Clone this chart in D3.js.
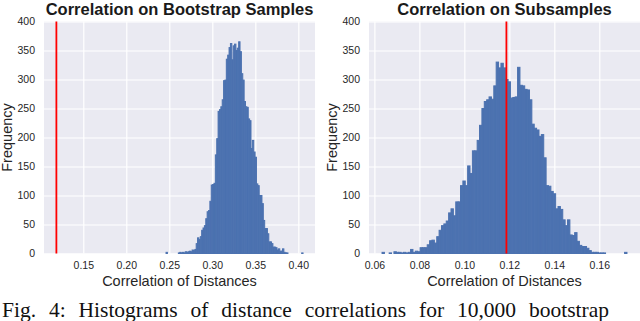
<!DOCTYPE html>
<html><head><meta charset="utf-8">
<script src="https://cdn.jsdelivr.net/npm/d3@7"></script>
<style>
html,body{margin:0;padding:0;background:#fff;overflow:hidden}
text{font-family:"Liberation Sans",Arial,sans-serif}
</style>
</head><body>
<svg id="chart" width="640" height="321"></svg>
<script>
// ---------------- data ----------------
const yTicks = [0, 50, 100, 150, 200, 250, 300, 350, 400];
const leftXTicks = [0.15, 0.20, 0.25, 0.30, 0.35, 0.40];
const rightXTicks = [0.06, 0.08, 0.10, 0.12, 0.14, 0.16];
const leftTitle = "Correlation on Bootstrap Samples";
const rightTitle = "Correlation on Subsamples";
const xLabel = "Correlation of Distances";
const yLabel = "Frequency";
const caption = "Fig. 4: Histograms of distance correlations for 10,000 bootstrap";
const referenceValue = 0.1187;           // red vertical line (both panels)
const leftBinRange = [0.2462, 0.4055];   // first bin start, last bin end
const rightBinRange = [0.0634, 0.1723];
const leftCounts = [
  2, 0, 0, 0, 0, 0, 0, 0, 0, 1,
  2, 1, 2, 1, 3, 2, 3, 4, 3, 6,
  5, 7, 17, 27, 24, 29, 40, 44, 48, 60,
  72, 74, 90, 118, 119, 121, 170, 198, 245, 248,
  253, 265, 298, 299, 335, 342, 355, 362, 334, 358,
  361, 350, 354, 365, 348, 310, 299, 262, 253, 252,
  232, 229, 181, 195, 175, 166, 120, 117, 100, 100,
  86, 57, 43, 43, 34, 20, 20, 17, 11, 11,
  10, 6, 8, 4, 4, 8, 2, 1, 1, 0,
  0, 0, 0, 0, 0, 0, 0, 0, 0, 1
];
const rightCounts = [
  2, 0, 0, 1, 0, 3, 2, 2, 1, 2,
  1, 2, 7, 2, 4, 3, 10, 10, 10, 15,
  22, 23, 18, 29, 40, 48, 51, 56, 70, 77,
  65, 89, 89, 117, 125, 117, 151, 138, 177, 177,
  195, 221, 250, 262, 265, 270, 266, 289, 330, 320,
  328, 320, 300, 296, 268, 269, 270, 321, 290, 289,
  283, 282, 265, 223, 216, 213, 202, 205, 165, 117,
  116, 107, 103, 77, 81, 76, 58, 48, 58, 32,
  31, 36, 21, 14, 12, 12, 9, 5, 2, 2,
  2, 1, 1, 1, 0, 0, 0, 0, 0, 0,
  0, 0, 2
];

// ---------------- drawing ----------------
const svg = d3.select("#chart");
svg.append("rect").attr("width", 640).attr("height", 321).attr("fill", "#fff");

const BG = "#EAEAF2", BAR = "#4C72B0", TXT = "#262626";
const yScale = d3.scaleLinear().domain([0, 400]).range([253.5, 21.5]);

function panel(o) {
  const g = svg.append("g");
  const x = d3.scaleLinear().domain(o.domain).range([o.left, o.right]);
  const top = yScale.range()[1], bottom = yScale.range()[0];

  g.append("rect").attr("x", o.left).attr("y", top)
    .attr("width", o.right - o.left).attr("height", bottom - top).attr("fill", BG);

  // grid
  const gy = g.append("g").attr("transform", `translate(${o.left},0)`)
    .call(d3.axisLeft(yScale).tickValues(yTicks).tickSize(-(o.right - o.left)).tickFormat(""));
  gy.select(".domain").remove();
  gy.selectAll("line").attr("stroke", "#fff").attr("stroke-width", 1.2);

  const gx = g.append("g").attr("transform", `translate(0,${top})`)
    .call(d3.axisBottom(x).tickValues(o.ticks).tickSize(bottom - top).tickFormat(""));
  gx.select(".domain").remove();
  gx.selectAll("line").attr("stroke", "#fff").attr("stroke-width", 1.2);

  // bars
  const n = o.counts.length;
  const w = (o.binRange[1] - o.binRange[0]) / n;
  const bins = o.counts.map((c, i) => ({x0: o.binRange[0] + i * w, x1: o.binRange[0] + (i + 1) * w, c}));
  g.append("g").selectAll("rect").data(bins.filter(b => b.c > 0)).join("rect")
    .attr("x", b => x(b.x0))
    .attr("width", b => Math.max(0.1, x(b.x1) - x(b.x0)))
    .attr("y", b => yScale(b.c))
    .attr("height", b => yScale(0) - yScale(b.c))
    .attr("fill", BAR).attr("stroke", BAR).attr("stroke-width", 1);

  // red reference line
  g.append("line").attr("x1", x(referenceValue)).attr("x2", x(referenceValue))
    .attr("y1", top).attr("y2", bottom).attr("stroke", "#ff0000").attr("stroke-width", 1.8);

  // tick labels
  const ay = g.append("g").attr("transform", `translate(${o.left},0)`)
    .call(d3.axisLeft(yScale).tickValues(yTicks).tickSize(0).tickPadding(9).tickFormat(d3.format("d")));
  ay.select(".domain").remove();
  ay.selectAll("text").attr("fill", TXT).style("font-size", "10.5px")
    .style("font-family", '"Liberation Sans",Arial,sans-serif');

  const ax = g.append("g").attr("transform", `translate(0,${bottom})`)
    .call(d3.axisBottom(x).tickValues(o.ticks).tickSize(0).tickPadding(8.5).tickFormat(d3.format(".2f")));
  ax.select(".domain").remove();
  ax.selectAll("text").attr("fill", TXT).style("font-size", "10.5px")
    .style("font-family", '"Liberation Sans",Arial,sans-serif');

  // titles & labels
  const cx = (o.left + o.right) / 2;
  g.append("text").attr("x", cx).attr("y", 14.5).attr("text-anchor", "middle")
    .attr("fill", "#1a1a1a").style("font-size", "16.5px").style("font-weight", "bold").text(o.title);
  g.append("text").attr("x", cx).attr("y", 285.5).attr("text-anchor", "middle")
    .attr("fill", TXT).style("font-size", "14.5px").text(xLabel);
  g.append("text").attr("transform", `translate(${o.ylabX},${(top + bottom) / 2}) rotate(-90)`)
    .attr("text-anchor", "middle").attr("fill", TXT).style("font-size", "14.5px").text(yLabel);
}

panel({left: 44, right: 315, domain: [0.1043, 0.4194], ticks: leftXTicks,
       counts: leftCounts, binRange: leftBinRange, title: leftTitle, ylabX: 11.5});
panel({left: 369, right: 640, domain: [0.0576, 0.1781], ticks: rightXTicks,
       counts: rightCounts, binRange: rightBinRange, title: rightTitle, ylabX: 337});

svg.append("text").attr("x", 2).attr("y", 316.5)
  .style("font-family", '"Liberation Serif","Times New Roman",serif')
  .style("font-size", "21.5px").style("word-spacing", "7.5px").attr("fill", "#111")
  .text(caption);
</script>
</body></html>
